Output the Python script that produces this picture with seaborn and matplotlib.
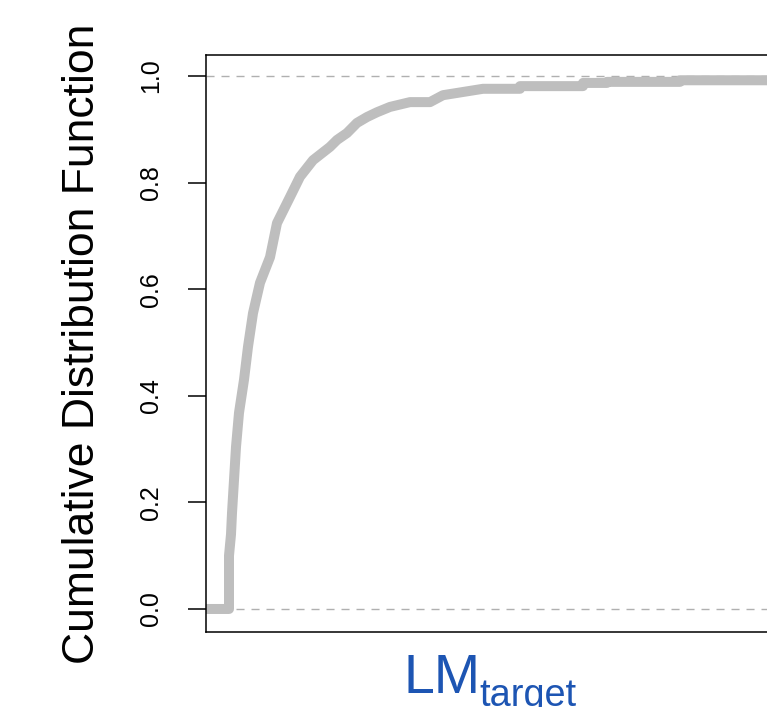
import matplotlib
matplotlib.use("Agg")
import matplotlib.pyplot as plt
import seaborn as sns
import pandas as pd

# ECDF curve (x in arbitrary LM_target units)
lm_target = [-20, 23, 23, 25, 26, 28, 30, 33, 38, 42, 47, 54, 64, 71, 84, 94, 107,
             124, 131, 141, 151, 161, 171, 184, 204, 224, 237, 257, 277, 314, 314,
             377, 377, 401, 401, 474, 474, 600]
cdf = [0.0, 0.0, 0.100, 0.140, 0.180, 0.242, 0.304, 0.368, 0.430, 0.492, 0.555,
       0.612, 0.660, 0.724, 0.773, 0.811, 0.842, 0.867, 0.880, 0.893, 0.912,
       0.923, 0.932, 0.942, 0.951, 0.951, 0.964, 0.970, 0.976, 0.976, 0.981,
       0.981, 0.987, 0.987, 0.989, 0.989, 0.992, 0.992]
yticks = [0.0, 0.2, 0.4, 0.6, 0.8, 1.0]
ytick_labels = ["0.0", "0.2", "0.4", "0.6", "0.8", "1.0"]
ref_levels = [0.0, 1.0]
xlabel_main = "LM"
xlabel_sub = "target"

sns.set_style("ticks")
plt.rcParams["font.family"] = ["Liberation Sans", "DejaVu Sans"]
plt.rcParams["text.color"] = "black"
plt.rcParams["axes.labelcolor"] = "black"
plt.rcParams["ytick.color"] = "black"
plt.rcParams["xtick.color"] = "black"

df = pd.DataFrame({"x": lm_target, "y": cdf})

fig = plt.figure(figsize=(7.67, 7.07), dpi=100)
W, H = 767, 707
left, right, top, bottom = 206, 778, 55, 632
ax = fig.add_axes([left / W, 1 - bottom / H, (right - left) / W, (bottom - top) / H])

for lv in ref_levels:
    ax.axhline(lv, color="#B0B0B0", linewidth=1.0, linestyle=(0, (5.8, 5.0)), zorder=1)

sns.lineplot(data=df, x="x", y="y", sort=False, estimator=None, color="#BEBEBE",
             linewidth=7.2, solid_capstyle="round", solid_joinstyle="round", ax=ax, zorder=2)

ax.set_xlim(0, right - left)
ax.set_ylim(-0.0432, 1.0394)
ax.set_xticks([])
ax.set_xlabel("")
ax.set_yticks(yticks)
ax.set_yticklabels(ytick_labels, rotation=90, va="center", fontsize=18, color="black")
ax.tick_params(axis="y", length=13, width=1.1, pad=18, color="black")

for sp in ax.spines.values():
    sp.set_visible(True)
    sp.set_linewidth(1.1)
    sp.set_color("black")

ax.set_ylabel("Cumulative Distribution Function", fontsize=32, color="black")
ax.yaxis.set_label_coords((103 - left) / (right - left), 0.5)

# x label: "LM" with a lowered subscript, as drawn by R plotmath (cropped at bottom as in the reference)
fig.text(403 / W, 1 - 693 / H, xlabel_main, fontsize=40, color="#1d55b3",
         ha="left", va="baseline")
fig.text(479 / W, 1 - 706 / H, xlabel_sub, fontsize=27.3, color="#1d55b3",
         ha="left", va="baseline")

fig.savefig("out.png", dpi=100)
